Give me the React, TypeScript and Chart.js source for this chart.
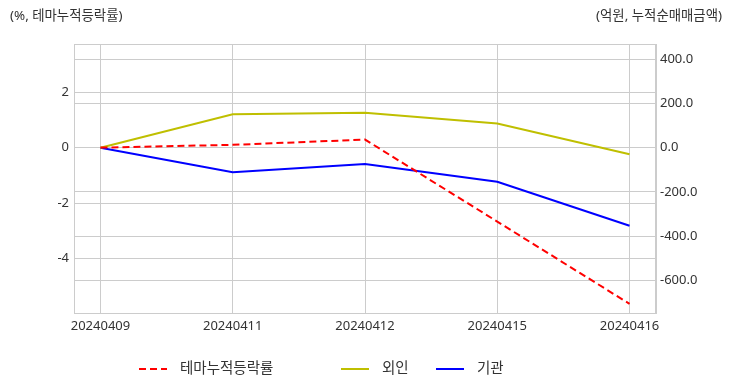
import React, { useEffect, useRef } from "react";
import { Chart, registerables } from "chart.js";

Chart.register(...registerables);

const categories = ["20240409", "20240411", "20240412", "20240415", "20240416"];
const themeReturn = [0, 0.1, 0.29, -2.67, -5.64];
const foreignNet = [0, 151, 158, 109, -30];
const institutionNet = [0, -111, -74, -154, -353];
const leftTicks = [-4, -2, 0, 2];
const rightTicks = [-600, -400, -200, 0, 200, 400];
const leftTitle = "(%, 테마누적등락률)";
const rightTitle = "(억원, 누적순매매금액)";
const seriesNames = ["테마누적등락률", "외인", "기관"];

const FONT = "'Noto Sans', 'Noto Sans CJK KR', sans-serif";
const TEXT = "#333333";
const GRID = "#cccccc";

export default function App() {
  const ref = useRef<HTMLCanvasElement | null>(null);
  useEffect(() => {
    if (!ref.current) return;
    const overlay = {
      id: "overlay",
      afterDraw(chart: any) {
        const ctx = chart.ctx;
        const a = chart.chartArea;
        ctx.save();
        ctx.strokeStyle = GRID;
        ctx.lineWidth = 1;
        ctx.strokeRect(a.left + 0.5, a.top + 0.5, a.right - a.left - 1, a.bottom - a.top);
        ctx.fillStyle = TEXT;
        ctx.font = `13.4px ${FONT}`;
        ctx.textBaseline = "middle";
        ctx.textAlign = "left";
        ctx.fillText(leftTitle, 10, 16);
        ctx.textAlign = "right";
        ctx.fillText(rightTitle, 722, 16);
        // legend
        const items = [
          { x: 139, tx: 180 },
          { x: 341, tx: 382 },
          { x: 436, tx: 477 },
        ];
        const y = 369;
        chart.data.datasets.forEach((ds: any, i: number) => {
          const it = items[i];
          ctx.beginPath();
          ctx.strokeStyle = ds.borderColor;
          ctx.lineWidth = 2;
          ctx.setLineDash(ds.borderDash || []);
          ctx.moveTo(it.x, y);
          ctx.lineTo(it.x + 28, y);
          ctx.stroke();
          ctx.setLineDash([]);
          ctx.fillStyle = TEXT;
          ctx.font = `14.5px ${FONT}`;
          ctx.textAlign = "left";
          ctx.fillText(ds.label, it.tx, y);
        });
        ctx.restore();
      },
    };
    const chart = new Chart(ref.current, {
      type: "line",
      data: {
        datasets: [
          {
            label: seriesNames[0],
            data: themeReturn.map((v, i) => ({ x: i, y: v })),
            borderColor: "#ff0000",
            borderDash: [7, 4],
            borderWidth: 2,
            pointRadius: 0,
            yAxisID: "y",
          },
          {
            label: seriesNames[1],
            data: foreignNet.map((v, i) => ({ x: i, y: v })),
            borderColor: "#bfbf00",
            borderWidth: 2,
            pointRadius: 0,
            yAxisID: "y2",
          },
          {
            label: seriesNames[2],
            data: institutionNet.map((v, i) => ({ x: i, y: v })),
            borderColor: "#0000ff",
            borderWidth: 2,
            pointRadius: 0,
            yAxisID: "y2",
          },
        ],
      },
      options: {
        responsive: false,
        animation: false,
        devicePixelRatio: 1,
        layout: { padding: { top: 44, bottom: 49, left: 0, right: 0 } },
        plugins: { legend: { display: false }, tooltip: { enabled: false } },
        scales: {
          x: {
            type: "linear",
            min: -0.2,
            max: 4.2,
            afterBuildTicks: (s: any) => {
              s.ticks = categories.map((_, i) => ({ value: i }));
            },
            afterFit: (s: any) => {
              s.height = 30;
            },
            ticks: {
              color: TEXT,
              font: { family: FONT, size: 13 },
              maxRotation: 0,
              autoSkip: false,
              padding: 5,
              callback: (v: any) => categories[v as number] ?? "",
            },
            grid: { color: GRID, drawTicks: false },
            border: { color: GRID },
          },
          y: {
            position: "left",
            min: -5.97,
            max: 3.74,
            afterBuildTicks: (s: any) => {
              s.ticks = leftTicks.map((v) => ({ value: v }));
            },
            afterFit: (s: any) => {
              s.width = 74;
            },
            ticks: {
              color: TEXT,
              font: { family: FONT, size: 13 },
              padding: 5,
              callback: (v: any) => String(v),
            },
            grid: { color: GRID, drawTicks: false },
            border: { color: GRID },
          },
          y2: {
            position: "right",
            min: -748,
            max: 469,
            afterBuildTicks: (s: any) => {
              s.ticks = rightTicks.map((v) => ({ value: v }));
            },
            afterFit: (s: any) => {
              s.width = 76;
            },
            ticks: {
              color: TEXT,
              font: { family: FONT, size: 13 },
              padding: 4,
              callback: (v: any) => Number(v).toFixed(1),
            },
            grid: { color: GRID, drawTicks: false },
            border: { color: GRID },
          },
        },
      },
      plugins: [overlay],
    } as any);
    return () => chart.destroy();
  }, []);
  return (
    <div style={{ position: "fixed", left: 0, top: 0, width: 732, height: 392, background: "#fff" }}>
      <canvas ref={ref} width={732} height={392} style={{ display: "block" }} />
    </div>
  );
}
